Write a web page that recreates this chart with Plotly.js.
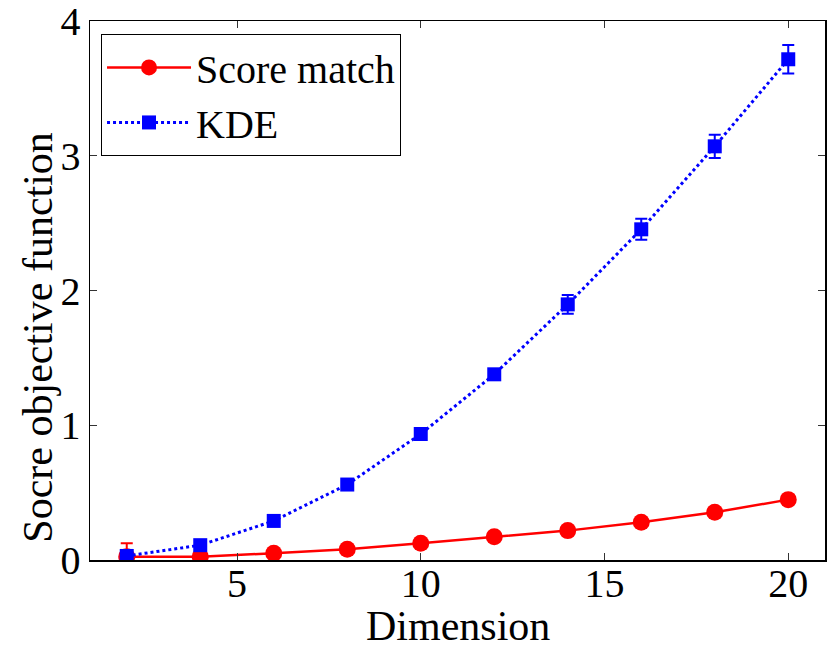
<!DOCTYPE html>
<html>
<head>
<meta charset="utf-8">
<script src="https://cdn.plot.ly/plotly-3.0.1.min.js"></script>
<style>
  html, body { margin: 0; padding: 0; background: #fff; }
  #chart { width: 827px; height: 648px; }
</style>
</head>
<body>
<div id="chart"></div>
<script>
// Dimension of the problem
const dimension = [2, 4, 6, 8, 10, 12, 14, 16, 18, 20];

// Score matching objective and its error
const scoreMatch    = [0.025, 0.025, 0.05, 0.08, 0.124, 0.173, 0.218, 0.28, 0.354, 0.448];
const scoreMatchErr = [0.10, 0.01, 0.01, 0.01, 0.015, 0.015, 0.02, 0.02, 0.025, 0.03];

// KDE objective and its error
const kde    = [0.03, 0.11, 0.29, 0.56, 0.935, 1.378, 1.897, 2.454, 3.07, 3.716];
const kdeErr = [0.02, 0.02, 0.02, 0.025, 0.03, 0.035, 0.07, 0.078, 0.086, 0.105];

// Axis labels
const xLabel = 'Dimension';
const yLabel = 'Socre objective function';

const FONT = 'Liberation Serif, Times New Roman, serif';

const traces = [
  {
    x: dimension, y: scoreMatch, name: 'Score match',
    type: 'scatter', mode: 'lines+markers',
    line: { color: '#ff0000', width: 2.5 },
    marker: { symbol: 'circle', size: 17, color: '#ff0000' },
    error_y: { type: 'data', array: scoreMatchErr, visible: true, color: '#ff0000', thickness: 2, width: 6 }
  },
  {
    x: dimension, y: kde, name: 'KDE',
    type: 'scatter', mode: 'lines+markers',
    line: { color: '#0000ff', width: 3, dash: 'dot' },
    marker: { symbol: 'square', size: 14, color: '#0000ff' },
    error_y: { type: 'data', array: kdeErr, visible: true, color: '#0000ff', thickness: 2, width: 6 }
  }
];

const axisCommon = {
  showline: true, linecolor: '#000', linewidth: 1.5, mirror: 'ticks',
  ticks: 'inside', ticklen: 7, tickwidth: 1, tickcolor: '#333',
  showgrid: false, zeroline: false,
  ticklabeloverflow: 'allow',
  tickfont: { family: FONT, size: 40, color: '#000' }
};

const titleFont = { family: FONT, size: 42, color: '#000' };

const layout = {
  width: 827, height: 648,
  paper_bgcolor: '#fff', plot_bgcolor: '#fff',
  margin: { l: 90, r: 2, t: 21, b: 88 },
  font: { family: FONT, color: '#000' },
  showlegend: true,
  legend: {
    x: 0.015, y: 0.976, xanchor: 'left', yanchor: 'top',
    bgcolor: '#fff', bordercolor: '#000', borderwidth: 1,
    font: { family: FONT, size: 40, color: '#000' },
    itemwidth: 84, tracegroupgap: 0
  },
  xaxis: Object.assign({}, axisCommon, {
    range: [1, 21], tickvals: [5, 10, 15, 20],
    ticklabelstandoff: -13
  }),
  yaxis: Object.assign({}, axisCommon, {
    range: [0, 4], tickvals: [0, 1, 2, 3, 4]
  }),
  annotations: [
    {
      text: xLabel, xref: 'paper', yref: 'paper',
      x: 0.5, y: -0.123, xanchor: 'center', yanchor: 'middle',
      showarrow: false, font: titleFont
    },
    {
      text: yLabel, xref: 'paper', yref: 'paper',
      x: -0.071, y: 0.414, xanchor: 'center', yanchor: 'middle',
      textangle: -90, showarrow: false, font: titleFont
    }
  ]
};

Plotly.newPlot('chart', traces, layout, { displayModeBar: false, staticPlot: true });
</script>
</body>
</html>
